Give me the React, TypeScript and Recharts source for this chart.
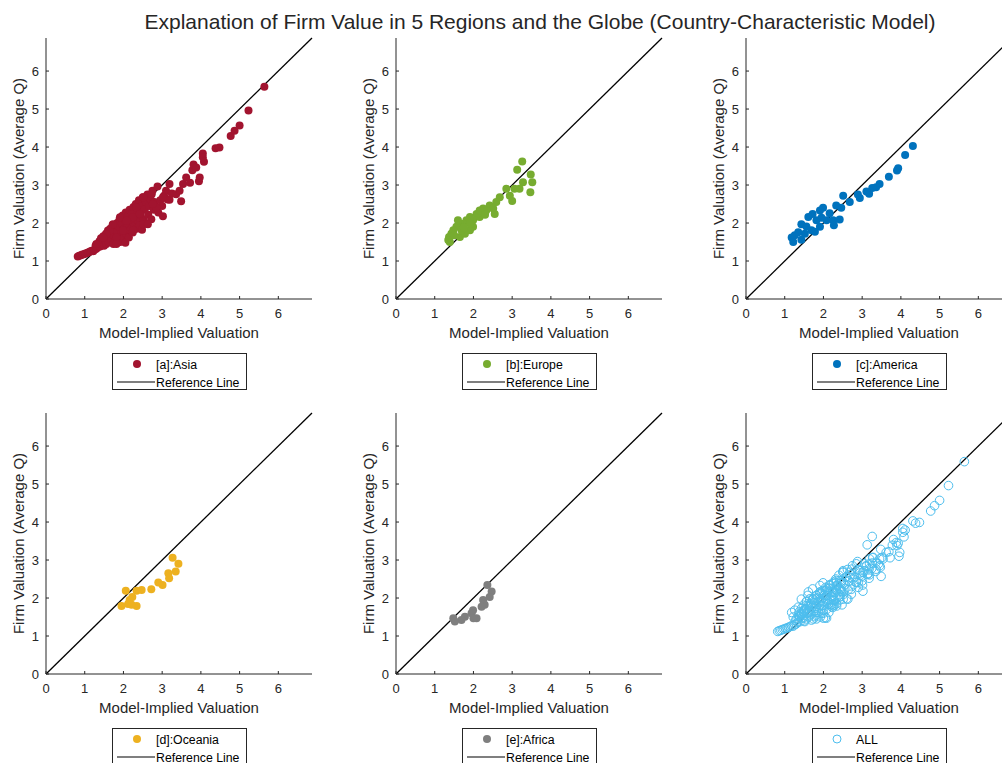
import React from 'react';
import { ScatterChart, Scatter, XAxis, YAxis, ReferenceLine } from 'recharts';

const FONT = '"Liberation Sans", Arial, Helvetica, sans-serif';
const LIM = 6.87;
const TICKS = [0, 1, 2, 3, 4, 5, 6];
const refLine = [0, LIM];

// [model-implied valuation, average Q]
const asia: [number, number][] = [
  [0.82, 1.12], [0.86, 1.14], [0.9, 1.15], [0.94, 1.17], [0.98, 1.18], [1.02, 1.2], [1.06, 1.21],
  [1.1, 1.23], [1.14, 1.25], [1.18, 1.27], [1.22, 1.26], [1.26, 1.3], [1.3, 1.32], [1.34, 1.36],
  [1.28, 1.4], [1.35, 1.45], [1.38, 1.52], [1.4, 1.38], [1.42, 1.6], [1.45, 1.48], [1.48, 1.65],
  [1.5, 1.4], [1.52, 1.55], [1.55, 1.72], [1.56, 1.45], [1.58, 1.62], [1.6, 1.8], [1.62, 1.5],
  [1.64, 1.68], [1.66, 1.85], [1.68, 1.58], [1.7, 1.75], [1.72, 1.95], [1.74, 1.45], [1.76, 1.66],
  [1.78, 1.88], [1.8, 1.55], [1.82, 1.78], [1.84, 2.0], [1.86, 1.62], [1.88, 1.9], [1.9, 2.1],
  [1.92, 1.5], [1.94, 1.72], [1.96, 1.98], [1.98, 2.2], [2.0, 1.6], [2.02, 1.85], [2.04, 2.08],
  [2.05, 1.48], [2.06, 2.28], [2.08, 1.7], [2.1, 1.95], [2.12, 2.18], [2.14, 1.62], [2.16, 2.35],
  [2.18, 1.82], [2.2, 2.05], [2.22, 2.25], [2.24, 1.75], [2.26, 2.42], [2.28, 1.92], [2.3, 2.15],
  [2.32, 2.5], [2.34, 1.85], [2.36, 2.32], [2.38, 2.05], [2.4, 2.6], [2.42, 1.95], [2.44, 2.22],
  [2.46, 2.45], [2.48, 1.82], [2.5, 2.68], [2.52, 2.1], [2.55, 2.35], [2.58, 2.55], [2.6, 1.98],
  [2.62, 2.75], [2.64, 2.22], [2.66, 2.45], [2.7, 2.62], [2.72, 2.1], [2.75, 2.85], [2.78, 2.35],
  [2.8, 2.55], [2.85, 2.42], [2.88, 2.96], [2.9, 2.28], [2.95, 2.6], [3.0, 2.45], [3.02, 2.18],
  [3.05, 2.72], [3.1, 2.85], [3.14, 2.62], [3.19, 3.03], [3.19, 2.61], [3.25, 2.78], [3.36, 2.76],
  [3.45, 2.85], [3.49, 2.57], [3.54, 3.03], [3.62, 3.2], [3.72, 3.06], [3.78, 3.39], [3.81, 3.54],
  [3.88, 3.46], [3.95, 3.1], [3.97, 3.2], [4.05, 3.83], [4.05, 3.73], [4.08, 3.61], [4.38, 3.97],
  [4.48, 3.99], [4.77, 4.29], [4.87, 4.43], [5.0, 4.57], [5.23, 4.96], [5.64, 5.59],
  [2.51, 2.68], [2.33, 2.41], [2.25, 2.15], [2.42, 2.24], [2.51, 1.97], [2.85, 2.41], [2.25, 1.8],
  [1.91, 2.15], [1.65, 1.8], [1.82, 1.62], [1.82, 1.45], [2.63, 1.97], [2.73, 2.76], [2.76, 2.5],
  [3.02, 2.68], [1.56, 1.71], [1.48, 1.62], [1.73, 1.97], [1.99, 1.8], [2.08, 2.06], [1.3, 1.45],
];

const europe: [number, number][] = [
  [3.26, 3.62], [3.13, 3.4], [3.48, 3.28], [3.52, 3.07], [3.28, 3.07], [3.19, 2.9], [3.47, 2.81],
  [3.06, 2.9], [2.85, 2.9], [2.94, 2.72], [3.0, 2.58], [2.68, 2.68], [2.59, 2.55], [2.42, 2.46],
  [2.51, 2.38], [2.55, 2.24], [2.33, 2.33], [2.25, 2.38], [2.16, 2.16], [2.08, 2.24], [1.99, 2.07],
  [1.99, 1.9], [1.91, 2.16], [1.82, 2.07], [1.73, 1.98], [1.65, 1.98], [1.56, 1.9], [1.6, 2.07],
  [1.48, 1.81], [1.43, 1.72], [1.37, 1.63], [1.35, 1.55], [1.39, 1.5], [1.65, 1.63], [1.78, 1.72],
  [1.91, 1.81], [2.16, 2.33], [1.91, 1.98], [1.69, 1.81], [1.5, 1.68], [1.75, 1.88], [2.3, 2.22],
];

const america: [number, number][] = [
  [4.31, 4.03], [4.11, 3.79], [3.93, 3.44], [3.9, 3.38], [3.69, 3.22], [3.45, 3.03], [3.36, 2.94],
  [3.26, 2.92], [3.18, 2.77], [3.11, 2.83], [2.94, 2.66], [2.89, 2.75], [2.68, 2.55], [2.51, 2.72],
  [2.46, 2.4], [2.33, 2.46], [2.42, 2.09], [2.25, 2.07], [2.27, 1.94], [2.16, 2.26], [1.99, 2.4],
  [1.91, 2.33], [1.95, 2.14], [1.82, 2.07], [1.72, 2.24], [1.61, 2.16], [1.43, 1.97], [1.56, 1.91],
  [1.69, 1.81], [1.52, 1.72], [1.35, 1.76], [1.26, 1.68], [1.18, 1.62], [1.22, 1.5], [1.43, 1.56],
  [1.78, 1.77], [1.91, 1.9], [2.08, 2.07],
];

const oceania: [number, number][] = [
  [3.27, 3.06], [3.42, 2.9], [3.35, 2.7], [3.16, 2.65], [3.18, 2.52], [3.01, 2.34], [2.9, 2.41],
  [2.72, 2.23], [2.47, 2.21], [2.34, 2.19], [2.06, 2.19], [2.23, 2.03], [2.16, 1.95], [2.12, 1.84],
  [1.95, 1.79], [2.34, 1.79], [2.21, 1.82],
];

const africa: [number, number][] = [
  [2.36, 2.34], [2.47, 2.17], [2.42, 2.03], [2.25, 1.95], [2.29, 1.82], [2.21, 1.77], [1.99, 1.68],
  [1.95, 1.6], [1.78, 1.51], [1.69, 1.42], [1.48, 1.47], [1.52, 1.38], [2.08, 1.47], [2.0, 1.47],
];

const all = [...asia, ...europe, ...america, ...oceania, ...africa];

const panels = [
  { name: '[a]:Asia', points: asia, color: '#A2142F', hollow: false },
  { name: '[b]:Europe', points: europe, color: '#77AC30', hollow: false },
  { name: '[c]:America', points: america, color: '#0072BD', hollow: false },
  { name: '[d]:Oceania', points: oceania, color: '#EDB120', hollow: false },
  { name: '[e]:Africa', points: africa, color: '#7F7F7F', hollow: false },
  { name: 'ALL', points: all, color: '#4DBEEE', hollow: true },
];

const INK = '#262626';

const XTick = (props: any) => {
  const { x, y, payload } = props;
  return (
    <g>
      <line x1={x} y1={y} x2={x} y2={y - 3} stroke={INK} />
      <text x={x} y={y + 19} textAnchor="middle" fontSize={13} fill={INK} fontFamily={FONT}>
        {payload.value}
      </text>
    </g>
  );
};

const YTick = (props: any) => {
  const { x, y, payload } = props;
  return (
    <g>
      <line x1={x} y1={y} x2={x + 3} y2={y} stroke={INK} />
      <text x={x - 7} y={y + 4.5} textAnchor="end" fontSize={13} fill={INK} fontFamily={FONT}>
        {payload.value}
      </text>
    </g>
  );
};

const XLabel = (props: any) => {
  const vb = props.viewBox || { x: 46, y: 299, width: 266 };
  return (
    <text x={vb.x + vb.width / 2} y={vb.y + 39} textAnchor="middle" fontSize={15} fill={INK} fontFamily={FONT}>
      Model-Implied Valuation
    </text>
  );
};

const YLabel = (props: any) => {
  const vb = props.viewBox || { y: 38, height: 261 };
  const cy = vb.y + vb.height / 2;
  return (
    <text x={24} y={cy} transform={`rotate(-90 24 ${cy})`} textAnchor="middle" fontSize={15} fill={INK} fontFamily={FONT}>
      Firm Valuation (Average Q)
    </text>
  );
};

function Legend({ name, color, hollow, left, top }: any) {
  return (
    <div
      style={{
        position: 'absolute', left, top, width: 133, height: 35, border: '1px solid #262626',
        background: '#fff', fontFamily: FONT, fontSize: 12, color: '#000',
      }}
    >
      <svg width={133} height={35} style={{ position: 'absolute', left: 0, top: 0 }}>
        <circle cx={24} cy={10} r={4} fill={hollow ? 'none' : color} stroke={hollow ? color : 'none'} />
        <line x1={4} y1={28} x2={42} y2={28} stroke="#000" strokeWidth={1.2} />
        <text x={43} y={14.5} fontSize={12.3} fontFamily={FONT} fill="#000">{name}</text>
        <text x={43} y={32.5} fontSize={12.3} fontFamily={FONT} fill="#000">Reference Line</text>
      </svg>
    </div>
  );
}

function Panel({ p, col, row }: any) {
  const data = p.points.map(([x, y]: [number, number]) => ({ x, y }));
  const shape = (s: any) =>
    p.hollow ? (
      <circle cx={s.cx} cy={s.cy} r={4.3} fill="none" stroke={p.color} strokeWidth={1} />
    ) : (
      <circle cx={s.cx} cy={s.cy} r={4} fill={p.color} />
    );
  return (
    <>
      <div style={{ position: 'absolute', left: col * 350, top: row * 375 }}>
        <ScatterChart width={350} height={375} margin={{ top: 38, right: 38, bottom: 46, left: 16 }}>
          <XAxis
            type="number"
            dataKey="x"
            domain={[0, LIM]}
            ticks={TICKS}
            interval={0}
            allowDataOverflow
            height={30}
            tickSize={0}
            tickMargin={0}
            tick={<XTick />}
            axisLine={{ stroke: INK }}
            label={<XLabel />}
          />
          <YAxis
            type="number"
            dataKey="y"
            domain={[0, LIM]}
            ticks={TICKS}
            interval={0}
            allowDataOverflow
            width={30}
            tickSize={0}
            tickMargin={0}
            tick={<YTick />}
            axisLine={{ stroke: INK }}
            label={<YLabel />}
          />
          <Scatter data={data} shape={shape} isAnimationActive={false} />
          <ReferenceLine
            segment={[{ x: refLine[0], y: refLine[0] }, { x: refLine[1], y: refLine[1] }]}
            stroke="#000"
            strokeWidth={1.3}
            ifOverflow="visible"
          />
        </ScatterChart>
      </div>
      <Legend name={p.name} color={p.color} hollow={p.hollow} left={col * 350 + 112} top={row * 375 + 353} />
    </>
  );
}

export default function App() {
  return (
    <div
      style={{
        position: 'absolute', left: 0, top: 0, width: 1002, height: 763, overflow: 'hidden',
        background: '#fff', fontFamily: FONT,
      }}
    >
      <div
        style={{
          position: 'absolute', left: 40, width: 1000, top: 9, textAlign: 'center',
          fontSize: 21, color: INK, lineHeight: '26px', whiteSpace: 'nowrap',
        }}
      >
        Explanation of Firm Value in 5 Regions and the Globe (Country-Characteristic Model)
      </div>
      {panels.map((p, i) => (
        <Panel key={p.name} p={p} col={i % 3} row={Math.floor(i / 3)} />
      ))}
    </div>
  );
}
